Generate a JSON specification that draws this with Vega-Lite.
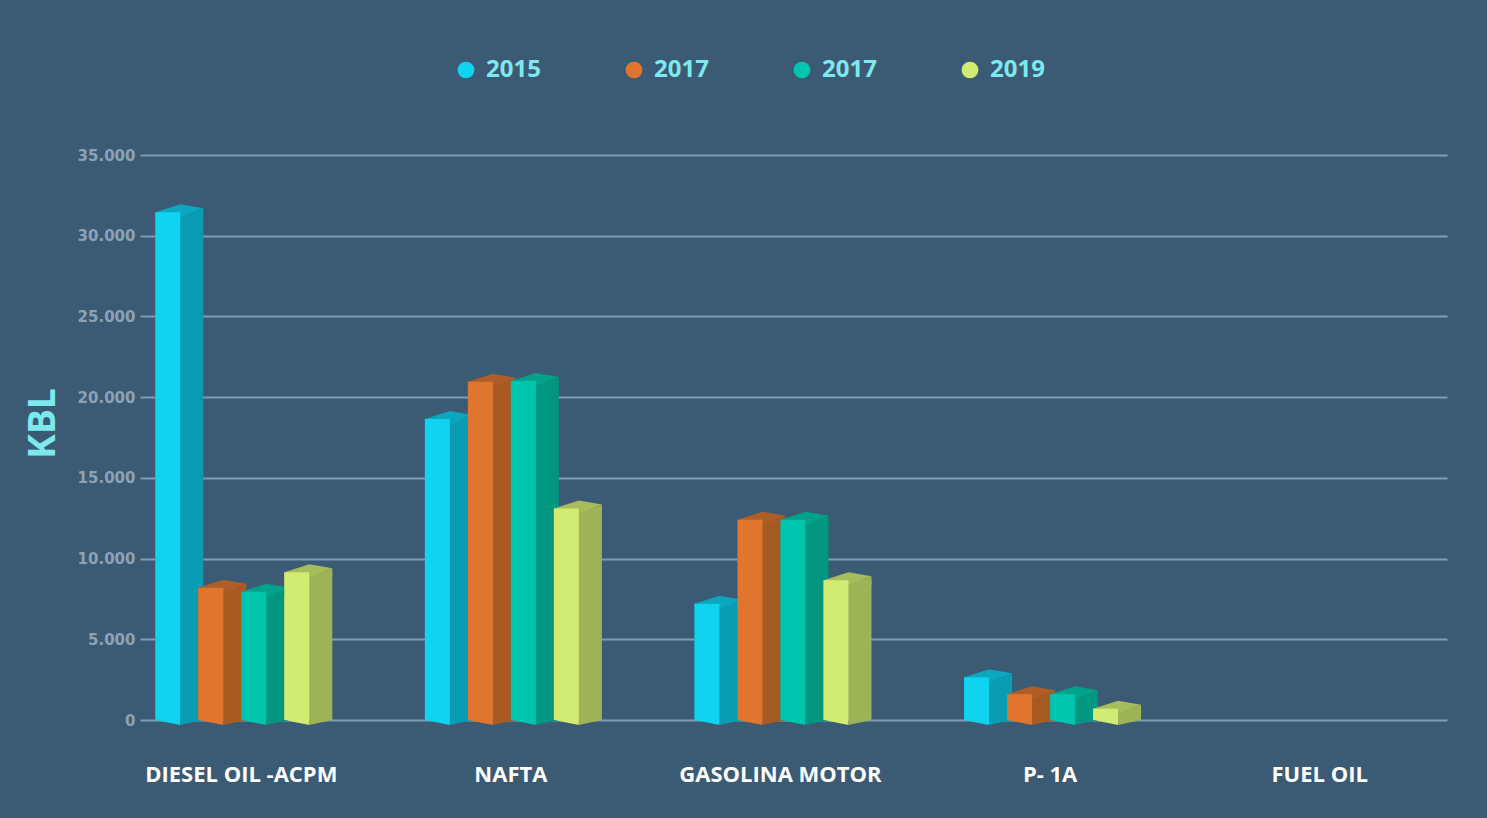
{
  "$schema": "https://vega.github.io/schema/vega-lite/v6.json",
  "width": 1307,
  "height": 565,
  "autosize": "none",
  "padding": {"left": 140, "top": 155, "right": 40, "bottom": 98},
  "background": "#3b5a74",
  "config": {"view": {"stroke": null}, "font": "Open Sans"},
  "data": {
    "values": [
      {"producto": "DIESEL OIL -ACPM", "serie": "2015", "valor": 31450},
      {"producto": "DIESEL OIL -ACPM", "serie": "2017a", "valor": 8200},
      {"producto": "DIESEL OIL -ACPM", "serie": "2017b", "valor": 7950},
      {"producto": "DIESEL OIL -ACPM", "serie": "2019", "valor": 9150},
      {"producto": "NAFTA", "serie": "2015", "valor": 18650},
      {"producto": "NAFTA", "serie": "2017a", "valor": 20950},
      {"producto": "NAFTA", "serie": "2017b", "valor": 21000},
      {"producto": "NAFTA", "serie": "2019", "valor": 13100},
      {"producto": "GASOLINA MOTOR", "serie": "2015", "valor": 7200},
      {"producto": "GASOLINA MOTOR", "serie": "2017a", "valor": 12400},
      {"producto": "GASOLINA MOTOR", "serie": "2017b", "valor": 12400},
      {"producto": "GASOLINA MOTOR", "serie": "2019", "valor": 8650},
      {"producto": "P- 1A", "serie": "2015", "valor": 2650},
      {"producto": "P- 1A", "serie": "2017a", "valor": 1600},
      {"producto": "P- 1A", "serie": "2017b", "valor": 1600},
      {"producto": "P- 1A", "serie": "2019", "valor": 700},
      {"producto": "FUEL OIL", "serie": "2015", "valor": 0},
      {"producto": "FUEL OIL", "serie": "2017a", "valor": 0},
      {"producto": "FUEL OIL", "serie": "2017b", "valor": 0},
      {"producto": "FUEL OIL", "serie": "2019", "valor": 0}
    ]
  },
  "encoding": {
    "x": {
      "field": "producto",
      "type": "nominal",
      "sort": ["DIESEL OIL -ACPM", "NAFTA", "GASOLINA MOTOR", "P- 1A", "FUEL OIL"],
      "scale": {"paddingInner": 0.362, "paddingOuter": 0.105, "align": 0.27},
      "title": null,
      "axis": {
        "domain": false,
        "ticks": false,
        "tickSize": 0,
        "grid": false,
        "labelAngle": 0,
        "labelLimit": 0,
        "labelFont": "Open Sans",
        "labelFontWeight": "bold",
        "labelFontSize": 22,
        "labelColor": "#ffffff",
        "labelBaseline": "alphabetic",
        "labelPadding": 61
      }
    },
    "xOffset": {
      "field": "serie",
      "type": "nominal",
      "sort": ["2015", "2017a", "2017b", "2019"],
      "scale": {"paddingInner": 0, "paddingOuter": 0}
    },
    "y": {
      "field": "valor",
      "type": "quantitative",
      "scale": {"domain": [0, 35000], "nice": false},
      "title": "KBL",
      "axis": {
        "values": [0, 5000, 10000, 15000, 20000, 25000, 30000, 35000],
        "labelExpr": "replace(format(datum.value, ','), ',', '.')",
        "domain": false,
        "ticks": false,
        "tickSize": 0,
        "labelPadding": 5,
        "labelFont": "DejaVu Sans",
        "labelFontWeight": "bold",
        "labelFontSize": 15,
        "labelColor": "#8ca3b7",
        "grid": true,
        "gridColor": "#7f9db5",
        "gridWidth": 2,
        "gridOpacity": 1,
        "titleFont": "Open Sans",
        "titleFontWeight": "bold",
        "titleFontSize": 37,
        "titleColor": "#7de9ef",
        "titleAngle": 270,
        "titleX": -86,
        "titleY": 268,
        "titleAlign": "center",
        "titleBaseline": "alphabetic"
      }
    }
  },
  "layer": [
    {
      "mark": {"type": "bar", "align": "left", "width": 48},
      "encoding": {
        "color": {
          "field": "serie", "type": "nominal", "legend": null,
          "scale": {"domain": ["2015", "2017a", "2017b", "2019"], "range": ["#0a9cb3", "#a85a23", "#00967f", "#9db356"]}
        }
      }
    },
    {
      "transform": [{"filter": "datum.valor > 0"}],
      "mark": {"type": "point", "filled": true, "opacity": 1, "strokeWidth": 0, "size": 2304,
        "shape": "M0.1458,0.2083L1.1042,-0.1667L1.1042,0.2083Z"},
      "encoding": {
        "color": {
          "field": "serie", "type": "nominal", "legend": null,
          "scale": {"domain": ["2015", "2017a", "2017b", "2019"], "range": ["#0a9cb3", "#a85a23", "#00967f", "#9db356"]}
        }
      }
    },
    {
      "transform": [{"filter": "datum.valor > 0"}],
      "mark": {"type": "point", "filled": true, "opacity": 1, "strokeWidth": 0, "size": 2304,
        "shape": "M-0.8958,0L0.1458,0.2083L1.1042,-0.1667L0.1458,-0.3333Z"},
      "encoding": {
        "color": {
          "field": "serie", "type": "nominal", "legend": null,
          "scale": {"domain": ["2015", "2017a", "2017b", "2019"], "range": ["#0aa7bf", "#b05e27", "#00a28a", "#a7bd5b"]}
        }
      }
    },
    {
      "mark": {"type": "bar", "align": "left", "width": 25},
      "encoding": {
        "color": {
          "field": "serie", "type": "nominal",
          "scale": {"domain": ["2015", "2017a", "2017b", "2019"], "range": ["#10d3ef", "#e0762e", "#00c5ad", "#d2eb72"]},
          "legend": {
            "title": null,
            "orient": "none",
            "direction": "horizontal",
            "legendX": 314,
            "legendY": -97,
            "padding": 0,
            "symbolType": "circle",
            "symbolSize": 280,
            "symbolStrokeWidth": 0,
            "symbolOpacity": 1,
            "labelExpr": "substring(datum.label, 0, 4)",
            "labelFont": "Open Sans",
            "labelFontWeight": "bold",
            "labelFontSize": 24,
            "labelColor": "#7de9ef",
            "labelOffset": 8,
            "columnPadding": 81
          }
        }
      }
    },
    {
      "transform": [{"filter": "datum.valor > 0"}],
      "mark": {"type": "point", "filled": true, "opacity": 1, "strokeWidth": 0, "size": 2304,
        "shape": "M-0.8958,0L0.1458,0L0.1458,0.2083Z"},
      "encoding": {
        "y": {"datum": 0},
        "color": {
          "field": "serie", "type": "nominal", "legend": null,
          "scale": {"domain": ["2015", "2017a", "2017b", "2019"], "range": ["#10d3ef", "#e0762e", "#00c5ad", "#d2eb72"]}
        }
      }
    },
    {
      "transform": [{"filter": "datum.valor > 0"}],
      "mark": {"type": "point", "filled": true, "opacity": 1, "strokeWidth": 0, "size": 2304,
        "shape": "M0.1458,0L1.1042,0L0.1458,0.2083Z"},
      "encoding": {
        "y": {"datum": 0},
        "color": {
          "field": "serie", "type": "nominal", "legend": null,
          "scale": {"domain": ["2015", "2017a", "2017b", "2019"], "range": ["#0a9cb3", "#a85a23", "#00967f", "#9db356"]}
        }
      }
    }
  ],
  "resolve": {"scale": {"color": "independent"}}
}
